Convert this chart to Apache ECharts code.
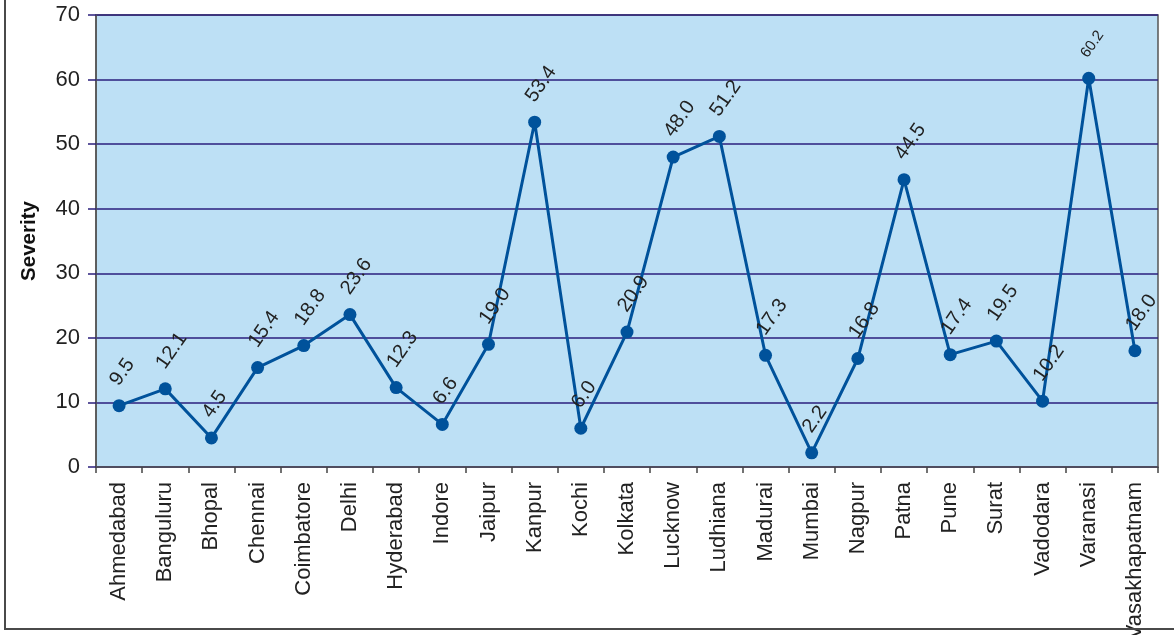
<!DOCTYPE html>
<html>
<head>
<meta charset="utf-8">
<script src="https://cdn.jsdelivr.net/npm/echarts@6/dist/echarts.min.js"></script>
<style>
  html, body { margin: 0; padding: 0; background: #ffffff; }
  #frame {
    position: absolute; left: 0; top: 0; width: 1174px; height: 635px;
    overflow: hidden;
  }
  #border {
    position: absolute; left: 4px; top: -4px; width: 1180px; height: 634px;
    border-left: 2px solid #4a4a4a; border-bottom: 2px solid #4a4a4a;
    box-sizing: border-box;
  }
  #chart { position: absolute; left: 0; top: 0; width: 1174px; height: 635px; }
</style>
</head>
<body>
<div id="frame">
  <div id="chart"></div>
  <div id="border"></div>
</div>
<script>
// Cities along the x axis
const cities = [
  'Ahmedabad', 'Banguluru', 'Bhopal', 'Chennai', 'Coimbatore', 'Delhi',
  'Hyderabad', 'Indore', 'Jaipur', 'Kanpur', 'Kochi', 'Kolkata', 'Lucknow',
  'Ludhiana', 'Madurai', 'Mumbai', 'Nagpur', 'Patna', 'Pune', 'Surat',
  'Vadodara', 'Varanasi', 'Vasakhapatnam'
];

// Severity value per city
const severity = [
  9.5, 12.1, 4.5, 15.4, 18.8, 23.6,
  12.3, 6.6, 19.0, 53.4, 6.0, 20.9, 48.0,
  51.2, 17.3, 2.2, 16.8, 44.5, 17.4, 19.5,
  10.2, 60.2, 18.0
];

// Y axis scale
const yMin = 0;
const yMax = 70;
const yStep = 10;

const axisText = '#222222';
const gridColor = '#2b1f7c';
const lineColor = '#00529b';
const fontFamily = 'Liberation Sans, Arial, sans-serif';

const points = severity.map((v, i) => {
  const item = { value: v };
  if (cities[i] === 'Varanasi') {
    item.label = { fontSize: 15 };
  }
  return item;
});

const chart = echarts.init(document.getElementById('chart'), null, { renderer: 'canvas' });

chart.setOption({
  animation: false,
  backgroundColor: 'transparent',
  grid: {
    left: 96, right: 16, top: 15, bottom: 168,
    outerBoundsMode: 'none',
    containLabel: false,
    show: true,
    backgroundColor: '#bde0f5',
    borderColor: '#555555',
    borderWidth: 1.5
  },
  xAxis: {
    type: 'category',
    data: cities,
    boundaryGap: true,
    axisLine: { show: true, lineStyle: { color: '#555555', width: 1.5 } },
    axisTick: { show: true, alignWithLabel: false, length: 6, lineStyle: { color: '#444444', width: 1.5 } },
    axisLabel: {
      rotate: 90,
      interval: 0,
      margin: 15,
      fontSize: 22,
      fontFamily: fontFamily,
      color: axisText
    },
    splitLine: { show: false }
  },
  yAxis: {
    type: 'value',
    min: yMin,
    max: yMax,
    interval: yStep,
    name: 'Severity',
    nameLocation: 'middle',
    nameGap: 56,
    nameTextStyle: {
      fontSize: 20.5,
      fontWeight: 'bold',
      fontFamily: fontFamily,
      color: '#111111'
    },
    axisLine: { show: true, lineStyle: { color: '#555555', width: 1.5 } },
    axisTick: { show: true, inside: false, length: 8, lineStyle: { color: gridColor, width: 1.5 } },
    axisLabel: {
      margin: 16,
      fontSize: 22,
      fontFamily: fontFamily,
      color: axisText
    },
    splitLine: { show: true, lineStyle: { color: gridColor, width: 1.5 } }
  },
  series: [{
    type: 'line',
    data: points,
    symbol: 'circle',
    symbolSize: 13,
    itemStyle: { color: lineColor },
    lineStyle: { color: lineColor, width: 3 },
    label: {
      show: true,
      position: 'top',
      distance: 5,
      rotate: 55,
      align: 'left',
      verticalAlign: 'middle',
      offset: [6, -10],
      fontSize: 20,
      fontFamily: fontFamily,
      color: '#222222',
      formatter: p => p.value.toFixed(1)
    }
  }]
});
</script>
</body>
</html>
